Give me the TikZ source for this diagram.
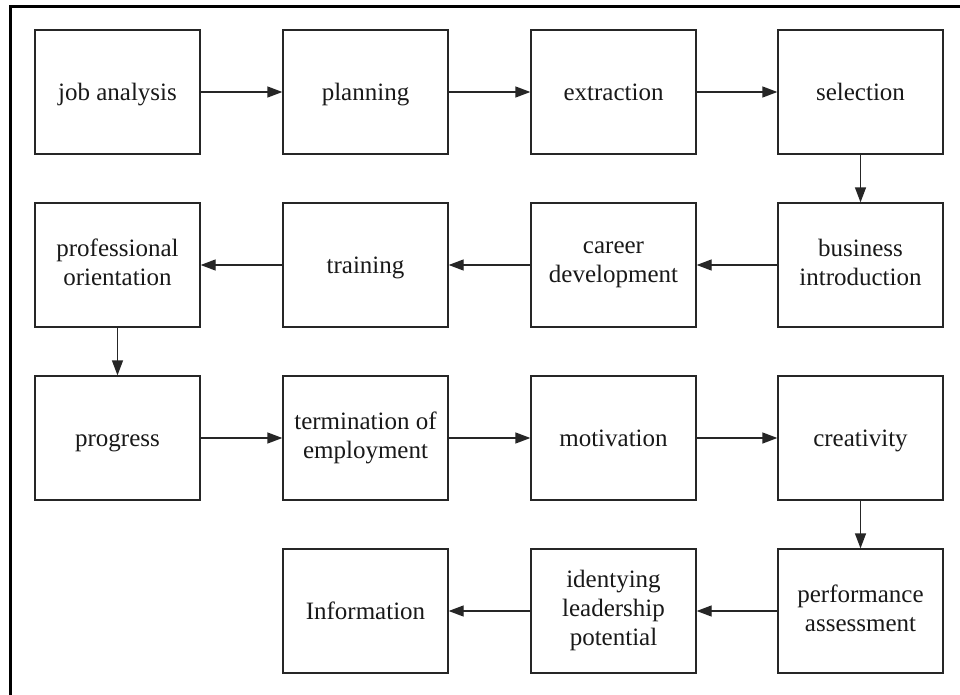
\documentclass[tikz,border=0pt]{standalone}
\usepackage{fontspec}
\setmainfont{Liberation Serif}
\usetikzlibrary{arrows.meta}
\newcommand\boxstrut{\rule[-6pt]{0pt}{29pt}}
\begin{document}
\begin{tikzpicture}[x=1pt,y=-1pt,
  stepbox/.style={draw=black!85,line width=1.3pt,minimum width=165pt,minimum height=124pt,
    inner sep=0pt,align=center,font=\fontsize{25}{29}\selectfont,text=black!90,
    execute at begin node={\boxstrut},execute at end node={\boxstrut}},
  flow/.style={draw=black!85,line width=1.3pt,-{Triangle[length=15pt,width=11pt]}}]
\useasboundingbox (0,0) rectangle (960,695);
\fill[white] (0,0) rectangle (960,695);
\draw[line width=3pt,black] (960,7) -- (10.5,7) -- (10.5,695);
% row 1
\node[stepbox] (a1) at (117.5,92) {job analysis};
\node[stepbox] (a2) at (365.5,92) {planning};
\node[stepbox] (a3) at (613.5,92) {extraction};
\node[stepbox] (a4) at (860.5,92) {selection};
% row 2
\node[stepbox] (b4) at (860.5,265) {business\\introduction};
\node[stepbox] (b3) at (613.5,265) {career\\development};
\node[stepbox] (b2) at (365.5,265) {training};
\node[stepbox] (b1) at (117.5,265) {professional\\orientation};
% row 3
\node[stepbox] (c1) at (117.5,438) {progress};
\node[stepbox] (c2) at (365.5,438) {termination of\\employment};
\node[stepbox] (c3) at (613.5,438) {motivation};
\node[stepbox] (c4) at (860.5,438) {creativity};
% row 4
\node[stepbox] (d4) at (860.5,611) {performance\\assessment};
\node[stepbox] (d3) at (613.5,611) {identying\\leadership\\potential};
\node[stepbox] (d2) at (365.5,611) {Information};
% connectors
\draw[flow] (a1) -- (a2);
\draw[flow] (a2) -- (a3);
\draw[flow] (a3) -- (a4);
\draw[flow] (a4) -- (b4);
\draw[flow] (b4) -- (b3);
\draw[flow] (b3) -- (b2);
\draw[flow] (b2) -- (b1);
\draw[flow] (b1) -- (c1);
\draw[flow] (c1) -- (c2);
\draw[flow] (c2) -- (c3);
\draw[flow] (c3) -- (c4);
\draw[flow] (c4) -- (d4);
\draw[flow] (d4) -- (d3);
\draw[flow] (d3) -- (d2);
\end{tikzpicture}
\end{document}
